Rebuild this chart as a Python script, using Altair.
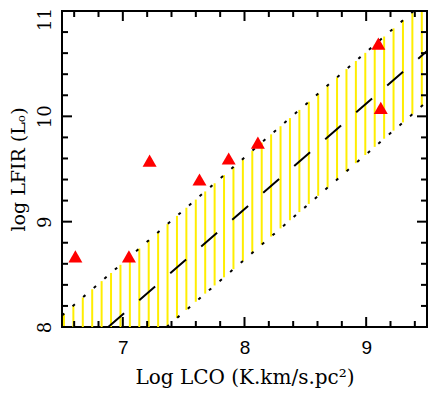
import altair as alt
import numpy as np
import pandas as pd

# ---- data ----
lco = [6.61, 7.05, 7.22, 7.63, 7.87, 8.11, 9.10, 9.12]
lfir = [8.67, 8.67, 9.58, 9.40, 9.60, 9.75, 10.69, 10.08]

# relation log LFIR = slope * log LCO + offset, with its band
fit_slope = 1.0
fit_offset = 1.12
band_low_offset = 0.64
band_high_offset = 1.61

x_range = [6.5, 9.5]
y_range = [8.0, 11.0]
x_major = [7, 8, 9]
x_minor = [6.6, 6.8, 7.2, 7.4, 7.6, 7.8, 8.2, 8.4, 8.6, 8.8, 9.2, 9.4]
y_major = [8, 9, 10, 11]
y_minor = [8.2, 8.4, 8.6, 8.8, 9.2, 9.4, 9.6, 9.8, 10.2, 10.4, 10.6, 10.8]

x_title = "Log LCO (K.km/s.pc²)"
y_title = "log LFIR (Lₒ)"

# ---- derived tables ----
W, H = 365, 316
SERIF = "DejaVu Serif"

pts = pd.DataFrame({"x": lco, "y": lfir})

# hatch pattern of the band (fill style)
hatch_x = np.arange(6.516, 9.46, 0.0774)
lo = np.clip(fit_slope * hatch_x + band_low_offset, y_range[0], y_range[1])
hi = np.clip(fit_slope * hatch_x + band_high_offset, y_range[0], y_range[1])
hatch = pd.DataFrame({"x": hatch_x, "lo": lo, "hi": hi})
hatch = hatch[hatch["hi"] > hatch["lo"]].reset_index(drop=True)


def line_df(offset):
    x0 = max(x_range[0], (y_range[0] - offset) / fit_slope)
    x1 = min(x_range[1], (y_range[1] - offset) / fit_slope)
    xs_ = [x0, x1]
    return pd.DataFrame({"x": xs_, "y": [fit_slope * v + offset for v in xs_]})


xs = alt.Scale(domain=x_range, nice=False, zero=False)
ys = alt.Scale(domain=y_range, nice=False, zero=False)

x_axis = alt.Axis(
    values=x_major, ticks=False, domain=False, grid=False,
    labelFont="Liberation Sans", labelFontSize=19, labelColor="black",
    labelPadding=26, labelBaseline="alphabetic", labelFlush=False,
    title=x_title, titleFont=SERIF, titleFontSize=20, titleFontWeight="normal",
    titleColor="black", titleX=W / 2, titleY=56, titleBaseline="alphabetic",
    titleAlign="center",
)
y_axis = alt.Axis(
    values=y_major, ticks=False, domain=False, grid=False,
    labelFont=SERIF, labelFontSize=18, labelColor="black", labelAngle=270,
    labelAlign="center", labelBaseline="alphabetic", labelPadding=12,
    labelFlush=False, labelOverlap=False,
    labelOffset={"condition": {"test": "datum.value == 11", "value": 8}, "value": 0},
    title=y_title, titleFont=SERIF, titleFontSize=19, titleFontWeight="normal",
    titleColor="black", titleAngle=270, titleX=-38, titleY=158,
    titleAlign="center", titleBaseline="alphabetic",
)


def X(f):
    return alt.X(f, scale=xs, axis=x_axis)


def Y(f):
    return alt.Y(f, scale=ys, axis=y_axis)


hatch_layer = alt.Chart(hatch).mark_rule(color="#ffee00", strokeWidth=2, clip=True).encode(
    x=X("x:Q"), y=Y("lo:Q"), y2="hi:Q",
)


def line_layer(offset, dash):
    return alt.Chart(line_df(offset)).mark_line(
        color="black", strokeWidth=2, strokeDash=dash, clip=True
    ).encode(x=X("x:Q"), y=Y("y:Q"))


upper = line_layer(band_high_offset, [3, 11])
lower = line_layer(band_low_offset, [3, 11])
center = line_layer(fit_offset, [21, 20])

tri = alt.Chart(pts).mark_point(
    shape="triangle-up", filled=True, color="#ff0000", size=196, opacity=1
).encode(x=X("x:Q"), y=Y("y:Q"))


def xticks(vals, length):
    d = pd.DataFrame({"v": vals})
    base = alt.Chart(d).mark_rule(color="black", strokeWidth=2)
    bottom = base.encode(x=X("v:Q"), y=alt.value(H), y2=alt.value(H - length))
    top = base.encode(x=X("v:Q"), y=alt.value(0), y2=alt.value(length))
    return [bottom, top]


def yticks(vals, length):
    d = pd.DataFrame({"v": vals})
    base = alt.Chart(d).mark_rule(color="black", strokeWidth=2)
    left = base.encode(y=Y("v:Q"), x=alt.value(0), x2=alt.value(length))
    right = base.encode(y=Y("v:Q"), x=alt.value(W), x2=alt.value(W - length))
    return [left, right]


ticks = xticks(x_major, 10) + xticks(x_minor, 6) + yticks(y_major, 10) + yticks(y_minor, 6)

chart = alt.layer(hatch_layer, upper, lower, center, tri, *ticks).properties(
    width=W, height=H,
    padding={"left": 54, "top": 3, "right": 1, "bottom": 61},
    autosize=alt.AutoSizeParams(type="none"),
    background="white",
).configure_view(stroke="black", strokeWidth=2)

chart.save("out.html", embed_options={"renderer": "svg", "actions": False})
